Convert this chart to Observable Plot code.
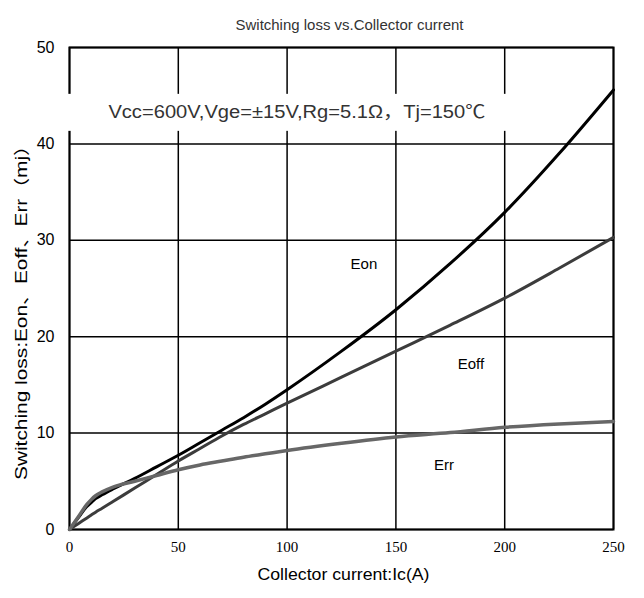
<!DOCTYPE html>
<html><head><meta charset="utf-8">
<script src="https://cdn.jsdelivr.net/npm/d3@7"></script>
<script src="https://cdn.jsdelivr.net/npm/@observablehq/plot@0.6"></script>
<style>body{margin:0;background:#fff}</style>
</head><body><div id="chart"></div>
<script>
const current = [0,4,8,10,12,15,20,30,40,50,60,70,80,90,100,125,150,175,200,225,250];
const eon  = [0,1.2,2.4,2.8,3.2,3.6,4.2,5.3,6.5,7.7,9.0,10.3,11.6,13.0,14.5,18.5,22.8,27.6,32.9,39.0,45.6];
const eoff = [0,0.6,1.2,1.5,1.8,2.2,2.9,4.3,5.7,7.1,8.4,9.7,10.9,12.0,13.1,15.8,18.5,21.2,24.0,27.1,30.3];
const err  = [0,1.3,2.6,3.1,3.5,3.9,4.4,5.0,5.6,6.2,6.7,7.1,7.5,7.85,8.2,8.95,9.6,10.05,10.6,10.95,11.2];
const xTicks = [0,50,100,150,200,250];
const yTicks = [0,10,20,30,40,50];
const seriesNames = ["Eon","Eoff","Err"];
const seriesColors = ["#000000","#3c3c3c","#676767"];
const curveLabels = [
  {text:"Eon", x:135.3, y:27.5},
  {text:"Eoff", x:184.5, y:17.1},
  {text:"Err", x:172.1, y:6.7}
];
const conditions = [{text:"Vcc=600V,Vge=±15V,Rg=5.1Ω，Tj=150℃", x:104.5, y:43.3}];
const titleText = "Switching loss vs.Collector current";
const xLabel = "Collector current:Ic(A)";
const yLabel = "Switching loss:Eon、Eoff、Err（mj）";

const rows = [];
[eon, eoff, err].forEach((vals, k) => vals.forEach((v, i) => rows.push({series: seriesNames[k], I: current[i], E: v})));

const font = "'Liberation Sans', 'Noto Sans CJK SC', sans-serif";

const plot = Plot.plot({
  width: 644, height: 598,
  marginLeft: 69, marginRight: 31, marginTop: 47, marginBottom: 69,
  style: {fontFamily: font, fontSize: "15px", background: "#fff", color: "#000"},
  x: {domain: [0, 250], ticks: xTicks, label: null},
  y: {domain: [0, 50], ticks: yTicks, label: null},
  color: {domain: seriesNames, range: seriesColors},
  marks: [
    Plot.gridX(xTicks, {stroke: "#000", strokeOpacity: 1, strokeWidth: 1.5}),
    Plot.gridY(yTicks, {stroke: "#000", strokeOpacity: 1, strokeWidth: 1.5}),
    Plot.frame({stroke: "#000", strokeWidth: 2}),
    Plot.axisX(xTicks, {tickSize: 0, tickPadding: 12, fontFamily: "'Liberation Serif', serif", fontSize: 15}),
    Plot.axisY(yTicks, {tickSize: 0, tickPadding: 15, fontSize: 16}),
    Plot.text(conditions, {x: "x", y: "y", text: "text", fontSize: 18, fill: "#333"}),
    Plot.line(rows, {x: "I", y: "E", z: "series", stroke: "series", strokeWidth: d => d.series === "Err" ? 3.5 : 3, curve: "monotone-x"}),
    Plot.text(curveLabels, {x: "x", y: "y", text: "text", fontSize: 15, fill: "#000"}),
    Plot.text([titleText], {frameAnchor: "top", dx: 8, dy: -28, text: d => d, fontSize: 15, fill: "#333"}),
    Plot.text([xLabel], {frameAnchor: "bottom", dx: 2, dy: 50, text: d => d, fontSize: 16, fill: "#000"}),
    Plot.text([yLabel], {frameAnchor: "left", dx: -48, dy: 19, rotate: -90, text: d => d, fontSize: 16, fill: "#000"})
  ]
});
document.getElementById("chart").appendChild(plot);

const texts = Array.from(plot.querySelectorAll("text"));
function stretch(str, len) {
  const t = texts.find(t => t.textContent === str);
  if (t) {
    t.setAttribute("text-anchor", "start");
    t.setAttribute("x", -len / 2);
    t.setAttribute("textLength", len);
    t.setAttribute("lengthAdjust", "spacingAndGlyphs");
  }
  return t;
}
stretch(yLabel, 345);
stretch(titleText, 228);
stretch(xLabel, 172);
const condText = stretch(conditions[0].text, 377);

// white box behind the conditions text
if (condText) {
  const bb = condText.getBBox();
  const rect = document.createElementNS("http://www.w3.org/2000/svg", "rect");
  const tr = condText.getAttribute("transform");
  if (tr) rect.setAttribute("transform", tr);
  rect.setAttribute("x", bb.x - 42);
  rect.setAttribute("y", bb.y - 8);
  rect.setAttribute("width", bb.width + 102);
  rect.setAttribute("height", bb.height + 17);
  rect.setAttribute("fill", "#fff");
  condText.parentNode.insertBefore(rect, condText);
}
</script>
</body></html>
